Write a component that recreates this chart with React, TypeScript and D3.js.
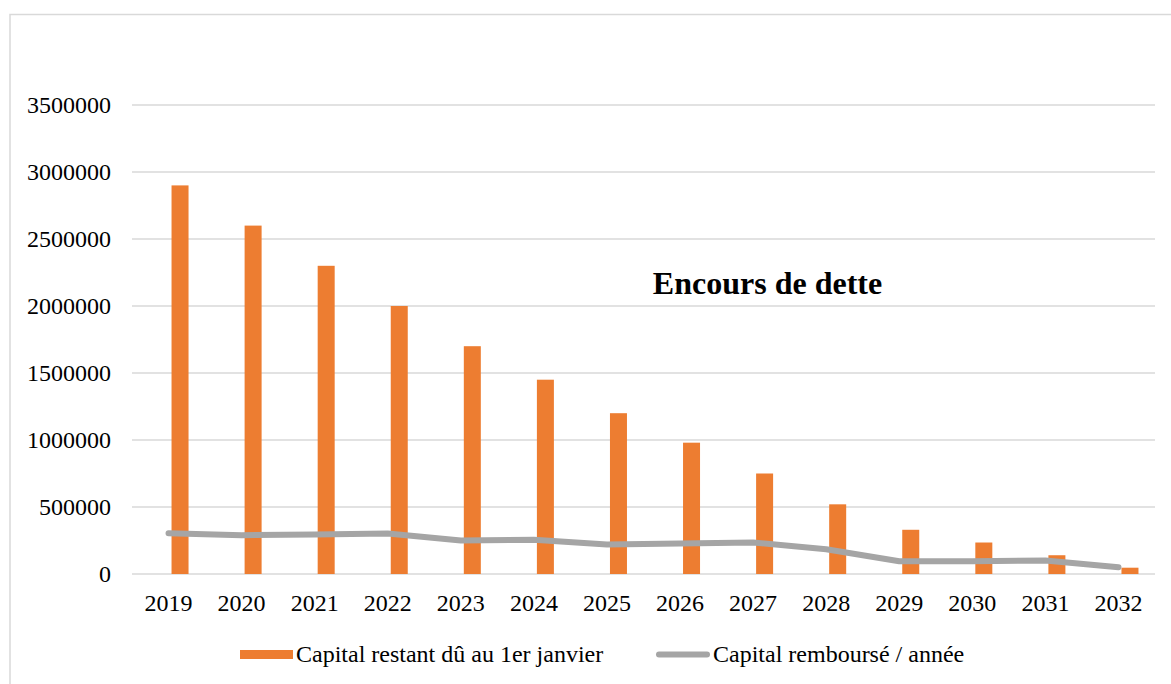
import React from "react";
import * as d3 from "d3";

const years = ["2019","2020","2021","2022","2023","2024","2025","2026","2027","2028","2029","2030","2031","2032"];
const capitalRestant = [2900000, 2600000, 2300000, 2000000, 1700000, 1450000, 1200000, 980000, 750000, 520000, 330000, 235000, 140000, 47000];
const capitalRembourse = [305000, 290000, 295000, 302000, 250000, 255000, 220000, 228000, 235000, 185000, 95000, 95000, 100000, 50000];
const yTicks = [0, 500000, 1000000, 1500000, 2000000, 2500000, 3000000, 3500000];
const title = "Encours de dette";
const legendBar = "Capital restant dû au 1er janvier";
const legendLine = "Capital remboursé / année";

const W = 1171, H = 684;
const left = 132, right = 1155, top = 105, bottom = 574;
const FONT = "'Liberation Serif', 'Times New Roman', serif";

export default function App() {
  const x = d3.scaleBand<string>().domain(years).range([left, right]).padding(0);
  const y = d3.scaleLinear().domain([0, 3500000]).range([bottom, top]);
  const bw = x.bandwidth();
  const cx = (d: string) => (x(d) as number) + bw / 2;
  const line = d3.line<number>()
    .x((_, i) => cx(years[i]))
    .y((v) => y(v));

  return (
    <svg width={W} height={H} style={{ position: "absolute", left: 0, top: 0, background: "#fff" }}>
      <rect x={10} y={14.5} width={1300} height={800} fill="#fff" stroke="#d9d9d9" strokeWidth={1.5} />
      {yTicks.map((t) => (
        <g key={t}>
          <line x1={left} x2={right} y1={y(t)} y2={y(t)} stroke="#d9d9d9" strokeWidth={1.3} />
          <text x={111} y={y(t)} dy="0.35em" textAnchor="end" fontFamily={FONT} fontSize={24} fill="#000">{t}</text>
        </g>
      ))}
      {years.map((yr, i) => (
        <rect key={yr} x={cx(yr) + 3} y={y(capitalRestant[i])} width={17} height={bottom - y(capitalRestant[i])} fill="#ed7d31" />
      ))}
      <path d={line(capitalRembourse) || ""} fill="none" stroke="#a5a5a5" strokeWidth={6} strokeLinecap="round" strokeLinejoin="round" />
      {years.map((yr) => (
        <text key={yr} x={cx(yr)} y={611} textAnchor="middle" fontFamily={FONT} fontSize={24} fill="#000">{yr}</text>
      ))}
      <text x={767.5} y={294} textAnchor="middle" fontFamily={FONT} fontSize={32} fontWeight="bold" fill="#000">{title}</text>
      <rect x={240} y={650} width={53} height={9} fill="#ed7d31" />
      <text x={296} y={662} fontFamily={FONT} fontSize={24} fill="#000">{legendBar}</text>
      <line x1={659} x2={707} y1={654.5} y2={654.5} stroke="#a5a5a5" strokeWidth={6} strokeLinecap="round" />
      <text x={713} y={662} fontFamily={FONT} fontSize={24} fill="#000">{legendLine}</text>
    </svg>
  );
}
